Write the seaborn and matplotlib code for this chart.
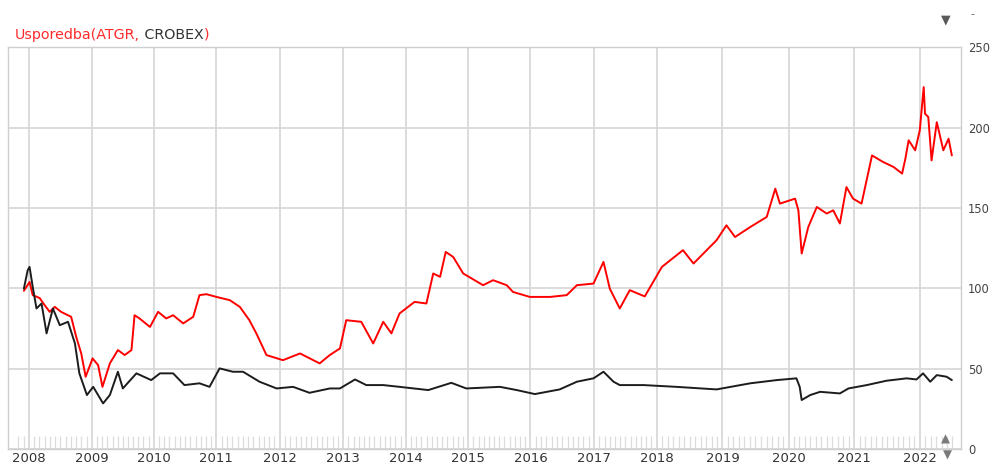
import numpy as np
import pandas as pd
import matplotlib
matplotlib.use("Agg")
import matplotlib.pyplot as plt
import seaborn as sns

# ATGR, normalised to 100 at the start of the period (decimal year, index value)
atgr_year = [2007.92, 2008.01, 2008.06, 2008.17, 2008.25, 2008.33, 2008.41, 2008.51,
             2008.67, 2008.75, 2008.83, 2008.90, 2009.01, 2009.10, 2009.17, 2009.29,
             2009.42, 2009.53, 2009.64, 2009.69, 2009.77, 2009.94, 2010.07, 2010.20,
             2010.31, 2010.47, 2010.63, 2010.73, 2010.84, 2011.00, 2011.21, 2011.37,
             2011.52, 2011.63, 2011.79, 2012.05, 2012.32, 2012.63, 2012.79, 2012.95,
             2013.05, 2013.29, 2013.48, 2013.64, 2013.77, 2013.90, 2014.14, 2014.33,
             2014.44, 2014.55, 2014.64, 2014.76, 2014.92, 2015.24, 2015.40, 2015.62,
             2015.72, 2015.99, 2016.31, 2016.57, 2016.73, 2016.99, 2017.15, 2017.25,
             2017.41, 2017.57, 2017.81, 2018.08, 2018.40, 2018.56, 2018.91, 2019.06,
             2019.19, 2019.42, 2019.67, 2019.80, 2019.87, 2020.10, 2020.15, 2020.20,
             2020.30, 2020.43, 2020.58, 2020.68, 2020.78, 2020.88, 2020.98, 2021.11,
             2021.27, 2021.44, 2021.60, 2021.73, 2021.78, 2021.83, 2021.93, 2022.00,
             2022.06, 2022.08, 2022.13, 2022.18, 2022.26, 2022.36, 2022.44, 2022.49]
atgr_value = [98.5, 104.0, 95.8, 94.0, 89.5, 85.4, 88.5, 85.4,
              82.3, 69.8, 59.5, 45.0, 56.4, 52.2, 38.7, 53.3,
              61.6, 58.5, 61.6, 83.3, 81.3, 76.0, 85.4, 81.3,
              83.3, 78.2, 82.3, 95.8, 96.4, 94.7, 92.7, 88.5,
              80.2, 72.0, 58.5, 55.3, 59.5, 53.3, 58.5, 62.6,
              80.2, 79.2, 65.7, 79.2, 72.0, 84.4, 91.6, 90.6,
              109.3, 107.2, 122.7, 119.6, 109.3, 102.0, 105.1, 102.0,
              97.8, 94.7, 94.7, 95.8, 102.0, 103.0, 116.5, 99.9,
              87.5, 98.9, 95.0, 113.4, 123.8, 115.5, 130.0, 139.3,
              132.0, 138.2, 144.5, 162.1, 152.8, 155.9, 148.6, 121.7,
              138.2, 150.7, 146.6, 148.6, 140.4, 163.1, 155.9, 152.8,
              182.8, 178.7, 175.6, 171.5, 180.8, 192.2, 186.0, 198.4,
              225.3, 208.8, 206.7, 179.7, 203.5, 186.0, 193.2, 182.8]

# CROBEX, normalised to 100 at the start of the period
crobex_year = [2007.92, 2007.98, 2008.01, 2008.06, 2008.12, 2008.20, 2008.28, 2008.38,
               2008.49, 2008.62, 2008.73, 2008.80, 2008.92, 2009.02, 2009.18, 2009.29,
               2009.42, 2009.50, 2009.72, 2009.96, 2010.10, 2010.31, 2010.49, 2010.73,
               2010.89, 2011.05, 2011.26, 2011.42, 2011.68, 2011.95, 2012.21, 2012.47,
               2012.79, 2012.95, 2013.19, 2013.37, 2013.64, 2013.90, 2014.36, 2014.73,
               2014.97, 2015.51, 2015.78, 2016.07, 2016.46, 2016.73, 2016.99, 2017.15,
               2017.31, 2017.41, 2017.79, 2018.30, 2018.91, 2019.42, 2019.82, 2020.12,
               2020.17, 2020.20, 2020.33, 2020.48, 2020.78, 2020.91, 2021.19, 2021.49,
               2021.80, 2021.95, 2022.05, 2022.16, 2022.26, 2022.41, 2022.49]
crobex_value = [99.9, 111.3, 113.4, 101.0, 87.5, 90.6, 72.0, 87.5,
                77.1, 79.2, 65.7, 47.1, 33.6, 38.7, 28.4, 33.6,
                48.1, 37.7, 47.1, 42.9, 47.1, 47.1, 39.8, 40.9,
                38.7, 50.2, 48.1, 48.1, 41.9, 37.7, 38.7, 35.0,
                37.7, 37.7, 43.3, 39.8, 39.8, 38.7, 36.7, 41.2,
                37.7, 38.7, 36.7, 34.2, 37.1, 41.9, 44.0, 48.1,
                41.9, 39.8, 39.8, 38.7, 37.1, 40.9, 42.9, 44.0,
                38.7, 30.5, 33.6, 35.6, 34.6, 37.7, 39.8, 42.5,
                44.0, 43.3, 47.1, 41.9, 46.0, 45.0, 42.9]

years = list(range(2008, 2023))
year_labels = [str(y) for y in years]
y_ticks = [0, 50, 100, 150, 200, 250]

df = pd.concat([
    pd.DataFrame({"year": atgr_year, "value": atgr_value, "series": "ATGR"}),
    pd.DataFrame({"year": crobex_year, "value": crobex_value, "series": "CROBEX"}),
], ignore_index=True)

# Horizontal space given to each calendar year on the time axis (2007 .. 2022)
year_width = np.array([63, 63, 61.7, 62.7, 63.3, 63.3, 62.7, 62.3, 62.2,
                       63.7, 62.5, 65.8, 66.0, 65.8, 65.4, 65.4])
anchor_years = np.arange(2007, 2007 + len(year_width) + 1, dtype=float)
anchor_pos = np.concatenate([[0.0], np.cumsum(year_width)])


def to_axis(x):
    return np.interp(x, anchor_years, anchor_pos)


def from_axis(p):
    return np.interp(p, anchor_pos, anchor_years)


sns.set_theme(style="white")
plt.rcParams["font.family"] = ["DejaVu Sans"]

W, H = 992, 465
fig = plt.figure(figsize=(W / 100, H / 100), dpi=100)
left, right, top, bottom = 7.5, 961, 47.5, 449
ax = fig.add_axes([left / W, 1 - bottom / H, (right - left) / W, (bottom - top) / H])

sns.lineplot(data=df, x="year", y="value", hue="series",
             palette={"ATGR": "#ff0000", "CROBEX": "#1c1c1c"},
             hue_order=["ATGR", "CROBEX"], estimator=None, sort=False,
             linewidth=1.4, legend=False, ax=ax)

ax.set_xscale("function", functions=(to_axis, from_axis))
ax.set_xlim(2007.66, 2022.63)
ax.set_ylim(0, 250)

ax.set_xticks(years)
ax.set_xticklabels(year_labels)
months = [y + m / 12 for y in range(2007, 2023) for m in range(12)
          if 2007 + 10 / 12 - 1e-9 <= y + m / 12 <= 2022 + 6 / 12 + 1e-9]
ax.set_xticks(months, minor=True)
ax.tick_params(axis="x", which="major", length=0, pad=2.5, labelsize=9.5, labelcolor="#333333")
ax.tick_params(axis="x", which="minor", direction="in", length=9.4, width=0.9,
               color="#dcdcdc", bottom=True)

ax.yaxis.tick_right()
ax.set_yticks(y_ticks)
ax.set_yticklabels([str(v) for v in y_ticks])
ax.tick_params(axis="y", length=0, pad=5, labelsize=8.3, labelcolor="#444444")

ax.grid(True, which="major", color="#d6d6d6", linewidth=1.2)
ax.set_axisbelow(True)
for s in ax.spines.values():
    s.set_color("#cfcfcf")
    s.set_linewidth(1.0)
ax.set_xlabel("")
ax.set_ylabel("")

# Title: red chart name with the benchmark in dark grey
fs = 10.3
t1 = fig.text(15 / W, 1 - 39 / H, "Usporedba(ATGR,", color="#ff2a2a",
              fontsize=fs, va="baseline", ha="left")
t2 = ax.annotate(" CROBEX", xy=(1, 0), xycoords=t1, color="#333333",
                 fontsize=fs, va="bottom", ha="left", annotation_clip=False)
ax.annotate(")", xy=(1, 0), xycoords=t2, color="#ff2a2a",
            fontsize=fs, va="bottom", ha="left", annotation_clip=False)

# Navigation arrows
fig.text(946 / W, 1 - 20 / H, "\u25bc", color="#5a5a5a", fontsize=9, ha="center", va="center")
fig.text(972 / W, 1 - 14 / H, "-", color="#5a5a5a", fontsize=8, ha="center", va="center")
fig.text(945 / W, 1 - 439 / H, "\u25b2", color="#7a7a7a", fontsize=8.5, ha="center", va="center")
fig.text(947 / W, 1 - 455 / H, "\u25bc", color="#7a7a7a", fontsize=8.5, ha="center", va="center")

fig.savefig("out.png", dpi=100, facecolor="white")
